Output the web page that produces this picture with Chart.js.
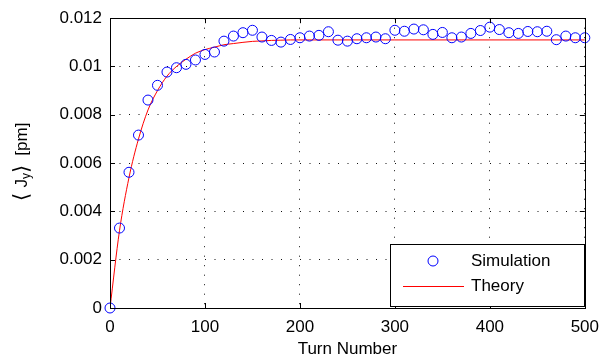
<!DOCTYPE html>
<html>
<head>
<meta charset="utf-8">
<script src="https://cdn.jsdelivr.net/npm/chart.js@4"></script>
<style>
  html, body { margin: 0; padding: 0; background: #fff; }
  #wrap { width: 608px; height: 360px; }
</style>
</head>
<body>
<div id="wrap"><canvas id="myChart" width="608" height="360"></canvas></div>
<script>
// simulation points, every 10 turns
var simTurns = [0,10,20,30,40,50,60,70,80,90,100,110,120,130,140,150,160,170,180,190,200,
  210,220,230,240,250,260,270,280,290,300,310,320,330,340,350,360,370,380,390,400,
  410,420,430,440,450,460,470,480,490,500];
var simJy = [0,0.00331,0.00562,0.00716,0.00861,0.00922,0.00977,0.00995,0.01009,0.01027,0.0105,
  0.0106,0.01105,0.01126,0.0114,0.0115,0.01122,0.01108,0.01101,0.01112,0.01119,
  0.01126,0.01129,0.01144,0.01109,0.01105,0.01115,0.01119,0.01122,0.01115,0.0115,
  0.01146,0.01155,0.01152,0.01133,0.01141,0.01119,0.01122,0.01137,0.01149,0.01163,
  0.01153,0.0114,0.01137,0.01145,0.01144,0.01146,0.01111,0.01126,0.01119,0.01119];

// theory curve
var theoryTurns = [0,10,20,30,40,50,60,70,80,90,100,110,120,130,140,150,160,170,180,190,200,300,400,500];
var theoryJy = [0,0.0032,0.0054,0.0070,0.0082,0.0090,0.0096,0.0100,0.0103,0.01055,0.0107,0.0108,
  0.0109,0.01095,0.0110,0.01104,0.01106,0.01108,0.01109,0.0111,0.0111,0.0111,0.0111,0.0111];

var xTicks = [0,100,200,300,400,500];
var yTicks = [0,0.002,0.004,0.006,0.008,0.01,0.012];

var FONT = '"Liberation Sans", Arial, sans-serif';

function pts(xs, ys) {
  return xs.map(function (x, i) { return { x: x, y: ys[i] }; });
}

var boxPlugin = {
  id: 'box',
  afterDatasetsDraw: function (chart) {
    var c = chart.ctx, a = chart.chartArea;
    var sx = chart.scales.x, sy = chart.scales.y;
    c.save();
    c.strokeStyle = '#000';
    c.lineWidth = 1;
    c.beginPath();
    xTicks.forEach(function (t) {
      var px = Math.round(sx.getPixelForValue(t)) + 0.5;
      c.moveTo(px, a.bottom); c.lineTo(px, a.bottom - 5);
      c.moveTo(px, a.top); c.lineTo(px, a.top + 5);
    });
    yTicks.forEach(function (t) {
      var py = Math.round(sy.getPixelForValue(t)) + 0.5;
      c.moveTo(a.left, py); c.lineTo(a.left + 5, py);
      c.moveTo(a.right, py); c.lineTo(a.right - 5, py);
    });
    c.stroke();
    c.strokeRect(Math.round(a.left) + 0.5, Math.round(a.top) + 0.5,
      Math.round(a.right - a.left), Math.round(a.bottom - a.top));
    c.restore();
  },
  afterDraw: function (chart) {
    var c = chart.ctx;
    var sim = chart.data.datasets[0], th = chart.data.datasets[1];
    c.save();
    // legend
    c.fillStyle = '#fff';
    c.fillRect(390, 244, 194, 62);
    c.strokeStyle = '#000';
    c.lineWidth = 1;
    c.strokeRect(390.5, 244.5, 194, 62);
    c.strokeStyle = sim.borderColor;
    c.beginPath();
    c.arc(433, 261, 5, 0, Math.PI * 2);
    c.stroke();
    c.strokeStyle = th.borderColor;
    c.beginPath();
    c.moveTo(403, 286.5); c.lineTo(464, 286.5);
    c.stroke();
    c.fillStyle = '#000';
    c.font = '17px ' + FONT;
    c.textBaseline = 'middle';
    c.textAlign = 'left';
    c.fillText(sim.label, 471, 261);
    c.fillText(th.label, 471, 286);

    // y axis title: <J_y> [pm], brackets a bit taller like the original
    c.translate(22, 162);
    c.rotate(-Math.PI / 2);
    var parts = [
      { t: '\u27E8 ', f: 21, dy: 0 },
      { t: 'J', f: 17, dy: 0 },
      { t: 'y', f: 12, dy: 5 },
      { t: '\u27E9', f: 21, dy: 0 },
      { t: '  [pm]', f: 17, dy: 0 }
    ];
    var total = 0;
    parts.forEach(function (p) {
      c.font = p.f + 'px ' + FONT;
      p.w = c.measureText(p.t).width;
      total += p.w;
    });
    var x0 = -total / 2;
    c.textAlign = 'left';
    c.textBaseline = 'middle';
    parts.forEach(function (p) {
      c.font = p.f + 'px ' + FONT;
      c.fillText(p.t, x0, p.dy);
      x0 += p.w;
    });
    c.restore();
  }
};

var ctx = document.getElementById('myChart').getContext('2d');
var myChart = new Chart(ctx, {
  type: 'scatter',
  data: {
    datasets: [{
      label: 'Simulation',
      data: pts(simTurns, simJy),
      showLine: false,
      borderColor: '#0000ff',
      backgroundColor: 'rgba(0,0,0,0)',
      pointRadius: 5,
      pointBorderWidth: 1,
      clip: false
    }, {
      label: 'Theory',
      data: pts(theoryTurns, theoryJy),
      showLine: true,
      borderColor: '#ff0000',
      borderWidth: 1,
      pointRadius: 0,
      cubicInterpolationMode: 'monotone',
      fill: false
    }]
  },
  plugins: [boxPlugin],
  options: {
    responsive: false,
    animation: false,
    events: [],
    layout: { padding: { top: 17, right: 22, left: 0, bottom: 0 } },
    plugins: { legend: { display: false }, tooltip: { enabled: false } },
    scales: {
      x: {
        type: 'linear',
        min: 0, max: 500,
        afterFit: function (s) { s.height = 52; },
        afterBuildTicks: function (s) { s.ticks = xTicks.map(function (v) { return { value: v }; }); },
        grid: { color: '#111', drawTicks: false, lineWidth: 1 },
        border: { display: false, dash: [1, 8.5] },
        ticks: { color: '#000', padding: 9, maxRotation: 0, font: { family: FONT, size: 17 } },
        title: { display: true, text: 'Turn Number', color: '#000', padding: { top: 0, bottom: 0 }, font: { family: FONT, size: 17 } }
      },
      y: {
        type: 'linear',
        min: 0, max: 0.012,
        afterFit: function (s) { s.width = 110; },
        afterBuildTicks: function (s) { s.ticks = yTicks.map(function (v) { return { value: v }; }); },
        grid: { color: '#111', drawTicks: false, lineWidth: 1 },
        border: { display: false, dash: [1, 8.5] },
        ticks: {
          color: '#000', padding: 8, font: { family: FONT, size: 17 },
          callback: function (v) { return String(+v.toFixed(3)); }
        }
      }
    }
  }
});
</script>
</body>
</html>
